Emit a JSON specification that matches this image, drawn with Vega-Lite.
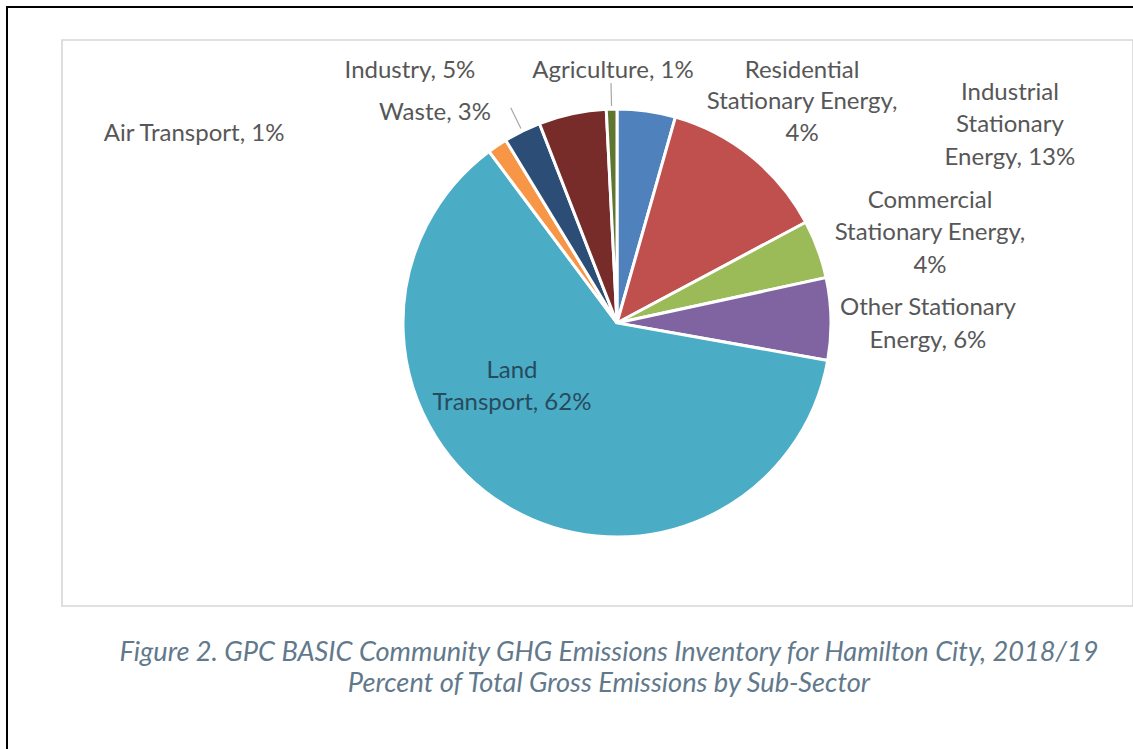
{
  "$schema": "https://vega.github.io/schema/vega-lite/v6.json",
  "padding": {"left": 6, "top": 6, "right": 0, "bottom": 0},
  "background": "#ffffff",
  "config": {
    "view": {"stroke": "#d9d9d9", "strokeWidth": 2},
    "concat": {"spacing": 0}
  },
  "datasets": {
    "sectors": [
      {"seq": 1, "cat": "Residential Stationary Energy", "label": ["Residential", "Stationary Energy,", "4%"], "value": 4.4},
      {"seq": 2, "cat": "Industrial Stationary Energy", "label": ["Industrial", "Stationary", "Energy, 13%"], "value": 12.8},
      {"seq": 3, "cat": "Commercial Stationary Energy", "label": ["Commercial", "Stationary Energy,", "4%"], "value": 4.4},
      {"seq": 4, "cat": "Other Stationary Energy", "label": ["Other Stationary", "Energy, 6%"], "value": 6.2},
      {"seq": 5, "cat": "Land Transport", "label": ["Land", "Transport, 62%"], "value": 62.0},
      {"seq": 6, "cat": "Air Transport", "label": ["Air Transport, 1%"], "value": 1.5},
      {"seq": 7, "cat": "Waste", "label": ["Waste, 3%"], "value": 2.8},
      {"seq": 8, "cat": "Industry", "label": ["Industry, 5%"], "value": 5.1},
      {"seq": 9, "cat": "Agriculture", "label": ["Agriculture, 1%"], "value": 0.8}
    ],
    "blank": [{"k": 1}]
  },
  "bounds": "flush",
  "hconcat": [
    {
      "width": 2, "height": 743,
      "view": {"fill": "#000000", "stroke": null},
      "data": {"name": "blank"},
      "mark": {"type": "text", "fontSize": 0},
      "encoding": {"text": {"value": ""}}
    },
    {
      "spacing": 32,
      "bounds": "flush",
      "vconcat": [
        {
          "width": 1125, "height": 2,
          "view": {"fill": "#000000", "stroke": null},
          "data": {"name": "blank"},
          "mark": {"type": "text", "fontSize": 0},
          "encoding": {"text": {"value": ""}}
        },
        {
          "spacing": 53,
          "bounds": "flush",
          "hconcat": [
            {
              "width": 1, "height": 1,
              "view": {"stroke": null},
              "data": {"name": "blank"},
              "mark": {"type": "text", "fontSize": 0},
              "encoding": {"text": {"value": ""}}
            },
            {
              "width": 1071, "height": 566,
              "view": {"stroke": "#d6d6d6", "strokeWidth": 1.6},
              "data": {"name": "sectors"},
              "title": {
                "text": ["Figure 2. GPC BASIC Community GHG Emissions Inventory for Hamilton City, 2018/19", "Percent of Total Gross Emissions by Sub-Sector"],
                "orient": "bottom", "anchor": "middle", "offset": 34, "dx": 11.5,
                "font": "Lato", "fontStyle": "italic", "fontWeight": "normal", "fontSize": 27.2,
                "lineHeight": 31, "color": "#62798c"
              },
              "encoding": {
                "theta": {"field": "value", "type": "quantitative", "stack": true, "scale": {"domain": [0, 100]}},
                "order": {"field": "seq", "type": "quantitative"}
              },
              "layer": [
                {
                  "mark": {"type": "arc", "outerRadius": 214, "xOffset": 19.5, "stroke": "#ffffff", "strokeWidth": 3},
                  "encoding": {
                    "color": {
                      "field": "cat", "type": "nominal", "legend": null,
                      "scale": {
                        "domain": ["Residential Stationary Energy", "Industrial Stationary Energy", "Commercial Stationary Energy", "Other Stationary Energy", "Land Transport", "Air Transport", "Waste", "Industry", "Agriculture"],
                        "range": ["#4f81bd", "#c0504d", "#9bbb59", "#8064a2", "#4bacc6", "#f79646", "#2c4d75", "#772c2a", "#5f7530"]
                      }
                    }
                  }
                },
                {
                  "mark": {"type": "arc", "radius": 240, "radius2": 217, "padAngle": 3, "xOffset": 19.5, "fill": null, "fillOpacity": 0, "stroke": "#a6a6a6", "strokeWidth": 1.2},
                  "encoding": {
                    "detail": {"field": "cat"},
                    "strokeOpacity": {"condition": {"test": "datum.cat === 'Agriculture' || datum.cat === 'Waste'", "value": 1}, "value": 0}
                  }
                },
                {
                  "mark": {"type": "text", "radius": 250, "xOffset": 19.5, "dx": 150.6, "dy": -4.4, "font": "Lato", "fontSize": 24, "lineHeight": 31.5, "color": "#575757", "align": "center", "baseline": "middle"},
                  "encoding": {"detail": {"field": "cat"}, "text": {"condition": {"test": "datum.cat === 'Residential Stationary Energy'", "field": "label"}, "value": ""}}
                },
                {
                  "mark": {"type": "text", "radius": 250, "xOffset": 19.5, "dx": 236, "dy": -35.4, "font": "Lato", "fontSize": 24, "lineHeight": 32.5, "color": "#575757", "align": "center", "baseline": "middle"},
                  "encoding": {"detail": {"field": "cat"}, "text": {"condition": {"test": "datum.cat === 'Industrial Stationary Energy'", "field": "label"}, "value": ""}}
                },
                {
                  "mark": {"type": "text", "radius": 250, "xOffset": 19.5, "dx": 78.3, "dy": -36.3, "font": "Lato", "fontSize": 24, "lineHeight": 32.5, "color": "#575757", "align": "center", "baseline": "middle"},
                  "encoding": {"detail": {"field": "cat"}, "text": {"condition": {"test": "datum.cat === 'Commercial Stationary Energy'", "field": "label"}, "value": ""}}
                },
                {
                  "mark": {"type": "text", "radius": 250, "xOffset": 19.5, "dx": 61, "dy": -10.6, "font": "Lato", "fontSize": 24, "lineHeight": 33, "color": "#575757", "align": "center", "baseline": "middle"},
                  "encoding": {"detail": {"field": "cat"}, "text": {"condition": {"test": "datum.cat === 'Other Stationary Energy'", "field": "label"}, "value": ""}}
                },
                {
                  "mark": {"type": "text", "radius": 120, "xOffset": 19.5, "dx": -42, "dy": -54, "font": "Lato", "fontSize": 24, "lineHeight": 32, "color": "#264b5d", "align": "center", "baseline": "middle"},
                  "encoding": {"detail": {"field": "cat"}, "text": {"condition": {"test": "datum.cat === 'Land Transport'", "field": "label"}, "value": ""}}
                },
                {
                  "mark": {"type": "text", "radius": 250, "xOffset": 19.5, "dx": -283, "dy": 18, "font": "Lato", "fontSize": 24, "color": "#575757", "align": "center", "baseline": "middle"},
                  "encoding": {"detail": {"field": "cat"}, "text": {"condition": {"test": "datum.cat === 'Air Transport'", "field": "label"}, "value": ""}}
                },
                {
                  "mark": {"type": "text", "radius": 250, "xOffset": 19.5, "dx": -71.3, "dy": 14, "font": "Lato", "fontSize": 24, "color": "#575757", "align": "center", "baseline": "middle"},
                  "encoding": {"detail": {"field": "cat"}, "text": {"condition": {"test": "datum.cat === 'Waste'", "field": "label"}, "value": ""}}
                },
                {
                  "mark": {"type": "text", "radius": 250, "xOffset": 19.5, "dx": -154.8, "dy": -7.5, "font": "Lato", "fontSize": 24, "color": "#575757", "align": "center", "baseline": "middle"},
                  "encoding": {"detail": {"field": "cat"}, "text": {"condition": {"test": "datum.cat === 'Industry'", "field": "label"}, "value": ""}}
                },
                {
                  "mark": {"type": "text", "radius": 250, "xOffset": 19.5, "dx": 2.3, "dy": -2.1, "font": "Lato", "fontSize": 24, "color": "#575757", "align": "center", "baseline": "middle"},
                  "encoding": {"detail": {"field": "cat"}, "text": {"condition": {"test": "datum.cat === 'Agriculture'", "field": "label"}, "value": ""}}
                }
              ]
            }
          ]
        }
      ]
    }
  ]
}
